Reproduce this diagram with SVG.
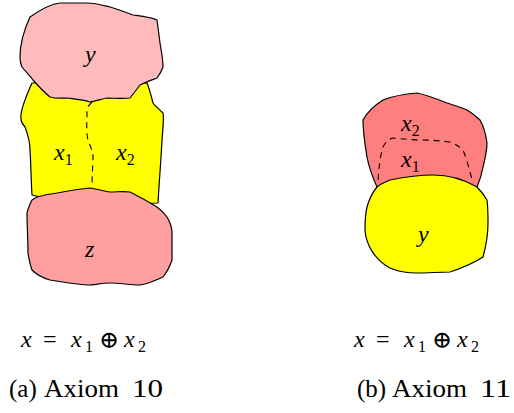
<svg xmlns="http://www.w3.org/2000/svg" width="514" height="413" viewBox="0 0 514 413">
<style>
.blob{stroke:#000;stroke-width:1.2;stroke-linejoin:round}
.dash{fill:none;stroke:#000;stroke-width:1.1;stroke-dasharray:6,5}
text{fill:#000}
.v{font-style:italic;font-size:24px}
.s{font-style:normal;font-size:16px}
.cap{font-size:25px}
.m{font-size:24px}
.op{font-size:24px;font-weight:300}
</style>
<g id="a-x">
<path class="blob" fill="#FFFF00" d="M32,83 C28,92 26,97 25,100 C22,108 20,115 21,120 C22,124 24,126 25,127 C28,135 30,143 30,150 C31,165 31,180 32,195 C60,202 130,204 158,203 C159,185 161,160 162,140 C163,128 164,118 163,113 C158,108 155,106 153,103 C151,95 149,88 147,83 Z"/>
</g>
<g id="a-y">
<path class="blob" fill="#FFBBBB" d="M60,3 C50,4 40,10 30,17 C24,30 20,45 20,57 C20,62 21,65 22,67 C26,72 30,76 33,80 C40,88 45,93 50,97 C57,99 62,98 67,98 C75,99 85,100 90,102 C96,101 102,99 107,98 C115,98 122,99 130,98 C134,93 137,89 140,85 C146,82 152,80 157,78 C160,74 162,70 163,67 C163,58 161,50 160,43 C159,35 158,27 157,20 C150,17 140,16 133,15 C125,12 117,9 110,7 C102,5 95,3 87,3 C78,3 70,3 60,3 Z"/>
</g>
<g id="a-z">
<path class="blob" fill="#FF9F9F" d="M37,197 C44,195 50,194 57,193 C68,191 80,189 90,188 C97,189 103,191 110,192 C117,192 123,191 130,192 C140,197 149,202 157,207 C161,210 164,213 167,217 C170,222 172,228 172,233 C172,242 172,251 172,260 C170,266 167,272 163,277 C156,280 148,284 140,285 C130,285 120,283 110,283 C102,283 94,285 87,285 C75,284 62,282 50,280 C43,278 37,275 32,270 C30,265 29,259 28,253 C28,240 27,226 27,213 C28,208 30,204 32,200 Z"/>
</g>
<g id="a-divider">
<path class="dash" d="M92,102 C88,106 86,109 87,113 C87,122 86,132 88,140 C90,146 93,151 93,157 C93,166 92,176 92,186"/>
</g>
<g id="a-labels" font-family="'Liberation Serif','DejaVu Serif',serif">
<text class="v" x="85" y="62">y</text>
<text class="v" x="54" y="160">x<tspan class="s" dy="5">1</tspan></text>
<text class="v" x="116" y="160">x<tspan class="s" dy="5">2</tspan></text>
<text class="v" x="85" y="257">z</text>
</g>
<g id="b-x">
<path class="blob" fill="#FF7F7F" d="M417,93 C405,94 393,96 383,100 C375,105 368,111 363,120 C363,132 365,145 367,157 C369,168 373,178 377,187 L477,187 C480,180 482,173 483,167 C485,159 487,151 487,143 C486,135 484,127 480,120 C476,116 472,113 467,110 C460,107 453,105 447,103 C437,99 427,95 417,93 Z"/>
</g>
<g id="b-y">
<path class="blob" fill="#FFFF00" d="M377,187 C372,193 369,200 367,207 C365,215 365,222 365,230 C366,245 375,260 390,268 C399,272 408,273 417,273 C428,273 439,272 450,272 C462,268 474,263 483,257 C486,246 488,234 488,223 C488,215 488,207 487,200 C484,195 481,191 477,187 C465,180 450,175 433,175 C420,175 405,177 390,180 C385,182 380,184 377,187 Z"/>
</g>
<g id="b-divider">
<path class="dash" d="M378,180 C379,168 380,156 383,147 C386,141 389,139 393,138 C403,139 413,140 423,140 C432,140 441,141 450,142 C455,144 459,146 463,150 C467,160 470,172 473,183"/>
</g>
<g id="b-labels" font-family="'Liberation Serif','DejaVu Serif',serif">
<text class="v" x="401" y="131">x<tspan class="s" dy="5">2</tspan></text>
<text class="v" x="401" y="167">x<tspan class="s" dy="5">1</tspan></text>
<text class="v" x="418" y="242">y</text>
</g>
<g id="formula-a" font-family="'Liberation Serif','DejaVu Serif',serif">
<text class="v" x="21" y="347">x</text>
<text class="m" x="43" y="347">=</text>
<text class="v" x="71" y="347">x</text>
<text class="s" x="85" y="352">1</text>
<text class="op" x="99" y="348">⊕</text>
<text class="v" x="124" y="347">x</text>
<text class="s" x="138" y="352">2</text>
</g>
<g id="formula-b" font-family="'Liberation Serif','DejaVu Serif',serif">
<text class="v" x="354" y="347">x</text>
<text class="m" x="376" y="347">=</text>
<text class="v" x="404" y="347">x</text>
<text class="s" x="418" y="352">1</text>
<text class="op" x="432" y="348">⊕</text>
<text class="v" x="457" y="347">x</text>
<text class="s" x="471" y="352">2</text>
</g>
<g id="captions" font-family="'Liberation Serif','DejaVu Serif',serif">
<text class="cap" x="9" y="397">(a)</text>
<text class="cap" x="44" y="397" textLength="75" lengthAdjust="spacingAndGlyphs">Axiom</text>
<text class="cap" x="132" y="397" textLength="31" lengthAdjust="spacingAndGlyphs">10</text>
<text class="cap" x="357" y="397">(b)</text>
<text class="cap" x="392" y="397" textLength="75" lengthAdjust="spacingAndGlyphs">Axiom</text>
<text class="cap" x="480" y="397" textLength="31" lengthAdjust="spacingAndGlyphs">11</text>
</g>
</svg>
